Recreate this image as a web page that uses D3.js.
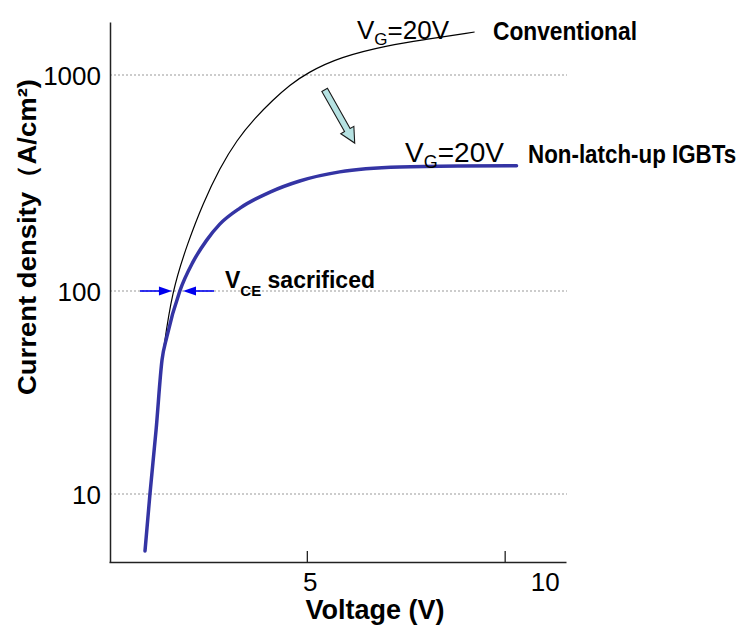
<!DOCTYPE html>
<html>
<head>
<meta charset="utf-8">
<script src="https://cdn.jsdelivr.net/npm/d3@7"></script>
<style>
  body { margin: 0; background: #fff; }
  text { font-family: "Liberation Sans", Arial, sans-serif; fill: #000; }
</style>
</head>
<body>
<div id="chart"></div>
<script>
// data
const xTicks = [5, 10];
const yTicks = [10, 100, 1000];

// non-latch-up IGBT, VG = 20V
const nlVoltage = [0.91, 1.035, 1.19, 1.34, 1.46, 1.79, 2.12, 2.47, 2.80, 3.31, 4.07, 4.82, 5.83, 7.35, 8.86, 10.30];
const nlCurrent = [5.24, 10, 20.7, 45.7, 59.3, 100, 136, 172, 204, 242, 287, 323, 356, 375, 379, 380];

// conventional, VG = 20V
const convVoltage = [1.36, 1.59, 2.0, 2.37, 2.80, 3.23, 3.69, 4.14, 4.57, 5.0, 5.83, 7.10, 7.93, 9.24];
const convCurrent = [48.4, 100, 169, 253, 371, 500, 632, 766, 899, 1021, 1212, 1377, 1452, 1581];

// VCE sacrificed markers at J = 100
const vceLevel = 100;
const vceConv = 1.59, vceNl = 1.87;

// arrow from conventional towards non-latch-up
const shiftFrom = [5.45, 853], shiftTo = [6.21, 484];

const width = 747, height = 633;

const svg = d3.select("#chart").append("svg")
  .attr("width", width).attr("height", height);

// scales (log axis is not evenly spaced in the original, so piecewise)
const x = d3.scaleLinear().domain([0, 11.55]).range([109, 566]);
const y = d3.scaleLog().domain([4.62, 10, 100, 1000, 1758]).range([562, 494, 291, 75, 22]);

// dotted grid
svg.append("g").selectAll("line").data(yTicks).join("line")
  .attr("x1", 110).attr("x2", 567)
  .attr("y1", d => y(d)).attr("y2", d => y(d))
  .attr("stroke", "#9a9a9a").attr("stroke-width", 1.2).attr("stroke-dasharray", "2,2");

// curves
const line = d3.line().x(d => x(d[0])).y(d => y(d[1]));
const convData = convVoltage.map((v, i) => [v, convCurrent[i]]);
const nlData = nlVoltage.map((v, i) => [v, nlCurrent[i]]);

svg.append("path").datum(convData).attr("d", line.curve(d3.curveBasis))
  .attr("fill", "none").attr("stroke", "#000").attr("stroke-width", 1.2);
svg.append("path").datum(nlData).attr("d", line.curve(d3.curveMonotoneX))
  .attr("fill", "none").attr("stroke", "#3434a4").attr("stroke-width", 3.5)
  .attr("stroke-linecap", "round").attr("stroke-linejoin", "round");

// x axis
const xAxis = svg.append("g").attr("transform", `translate(0, 562)`)
  .call(d3.axisBottom(x).tickValues(xTicks).tickSize(-11).tickSizeOuter(0).tickPadding(11));
xAxis.select(".domain").attr("stroke", "#222").attr("stroke-width", 1.5);
xAxis.selectAll(".tick line").attr("stroke", "#222").attr("stroke-width", 1.3);
xAxis.selectAll(".tick text").style("font-size", "26px").attr("fill", "#000")
  .style("font-family", "'Liberation Sans', Arial, sans-serif")
  .attr("dx", d => d == 10 ? 40 : 3);

// y axis
const yAxis = svg.append("g").attr("transform", `translate(110, 0)`)
  .call(d3.axisLeft(y).tickValues(yTicks).tickSize(0).tickSizeOuter(0).tickPadding(9).tickFormat(d3.format("d")));
yAxis.select(".domain").attr("stroke", "#222").attr("stroke-width", 1.5);
yAxis.selectAll(".tick text").style("font-size", "26px").attr("fill", "#000")
  .style("font-family", "'Liberation Sans', Arial, sans-serif").attr("dy", "0.35em");

// axis titles
svg.append("text").attr("x", 375).attr("y", 619).attr("text-anchor", "middle")
  .style("font-size", "27px").style("font-weight", "bold").text("Voltage (V)");
svg.append("text").attr("transform", "translate(36, 237) rotate(-90)").attr("text-anchor", "middle")
  .style("font-size", "26px").style("font-weight", "bold")
  .attr("textLength", 316).attr("lengthAdjust", "spacingAndGlyphs")
  .text("Current density（A/cm²)");

// VCE sacrificed arrows
const arrowY = y(vceLevel);
function hArrow(x0, x1) {
  const dir = x1 > x0 ? 1 : -1;
  svg.append("line").attr("x1", x0).attr("x2", x1 - dir * 10).attr("y1", arrowY).attr("y2", arrowY)
    .attr("stroke", "#0000ee").attr("stroke-width", 1.6);
  svg.append("path")
    .attr("d", `M${x1},${arrowY} L${x1 - dir * 13},${arrowY - 4.5} L${x1 - dir * 13},${arrowY + 4.5} Z`)
    .attr("fill", "#0000ee");
}
hArrow(140, x(vceConv));
hArrow(214, x(vceNl));

// block arrow
(function () {
  const x0 = x(shiftFrom[0]), y0 = y(shiftFrom[1]);
  const x1 = x(shiftTo[0]), y1 = y(shiftTo[1]);
  const len = Math.hypot(x1 - x0, y1 - y0);
  const ux = (x1 - x0) / len, uy = (y1 - y0) / len;
  const nx = -uy, ny = ux;
  const sw = 3.2, hw = 7.5, hl = 15;
  const bx = x1 - ux * hl, by = y1 - uy * hl;
  const pts = [
    [x0 + nx * sw, y0 + ny * sw], [bx + nx * sw, by + ny * sw], [bx + nx * hw, by + ny * hw],
    [x1, y1],
    [bx - nx * hw, by - ny * hw], [bx - nx * sw, by - ny * sw], [x0 - nx * sw, y0 - ny * sw]
  ];
  svg.append("path").attr("d", "M" + pts.map(p => p.join(",")).join("L") + "Z")
    .attr("fill", "#b6e2e2").attr("stroke", "#1a1a1a").attr("stroke-width", 1.1).attr("stroke-linejoin", "miter");
})();

// curve labels
function vgLabel(px, py, size) {
  const t = svg.append("text").attr("x", px).attr("y", py).style("font-size", size + "px");
  t.append("tspan").text("V");
  t.append("tspan").attr("dy", 6).style("font-size", Math.round(size * 0.66) + "px").text("G");
  t.append("tspan").attr("dy", -6).text("=20V");
}
vgLabel(357, 39, 26);
vgLabel(405, 162, 28);

// the bold series names are set in a narrow face in the original
svg.append("text").attr("transform", "translate(493, 40) scale(0.875, 1)")
  .style("font-size", "26px").style("font-weight", "bold").text("Conventional");
svg.append("text").attr("transform", "translate(528, 163) scale(0.86, 1)")
  .style("font-size", "26px").style("font-weight", "bold").text("Non-latch-up IGBTs");

const vce = svg.append("text").attr("x", 225).attr("y", 288).style("font-size", "23px").style("font-weight", "bold");
vce.append("tspan").text("V");
vce.append("tspan").attr("dy", 8).style("font-size", "15px").text("CE");
vce.append("tspan").attr("dy", -8).text(" sacrificed");
</script>
</body>
</html>
